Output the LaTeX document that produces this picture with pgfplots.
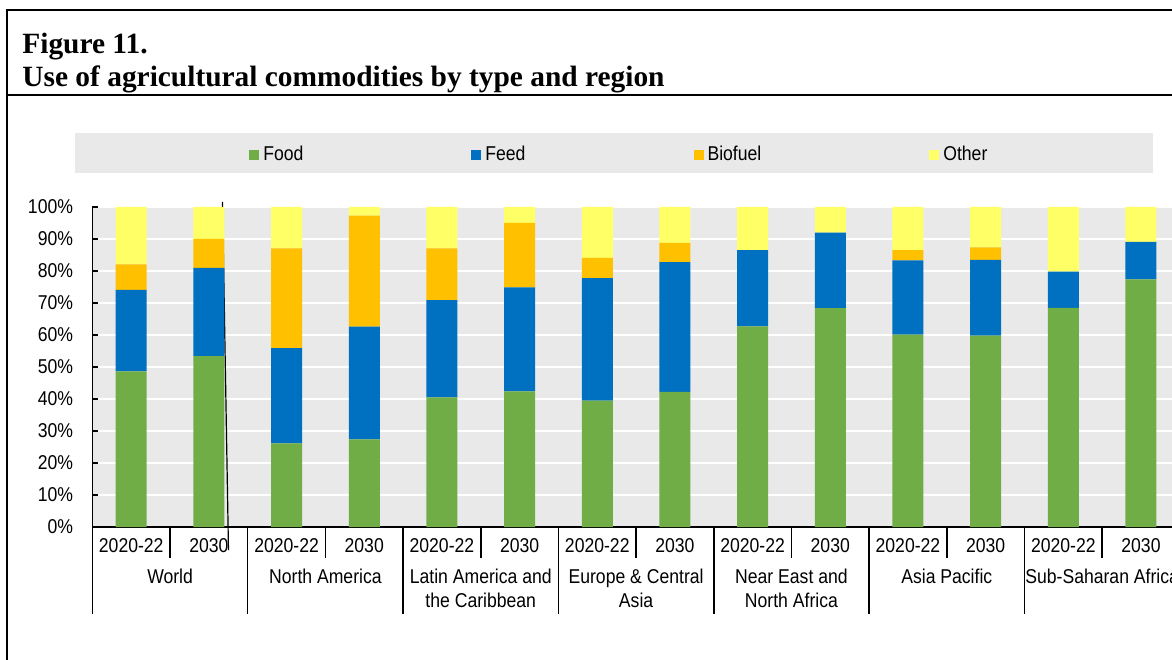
\documentclass[border=0pt]{standalone}
\usepackage{pgfplots}
\pgfplotsset{compat=1.18}
\usepackage{pgfplotstable}
\usepackage{graphicx}
\usepackage{fontspec}
\setmainfont{Liberation Sans}
\newfontfamily\titlefont{Liberation Serif}
\definecolor{cfood}{HTML}{70AD47}
\definecolor{cfeed}{HTML}{0070C0}
\definecolor{cbio}{HTML}{FFC000}
\definecolor{coth}{HTML}{FFFF66}
\definecolor{bgg}{HTML}{E9E9E9}
\pgfplotstableread{
x food feed bio oth
0  48.6 25.5 8.0 17.9
1  53.4 27.6 9.0 10.0
2  26.1 29.8 31.2 12.9
3  27.4 35.2 34.7 2.7
4  40.5 30.4 16.2 12.9
5  42.4 32.5 20.1 5.0
6  39.5 38.3 6.3 15.9
7  42.2 40.6 6.0 11.2
8  62.7 23.8 0.0 13.5
9  68.4 23.6 0.0 8.0
10 60.1 23.2 3.2 13.5
11 59.8 23.7 3.9 12.6
12 68.5 11.3 0.0 20.2
13 77.4 11.7 0.0 10.9
}\agdata
\newcommand{\nf}[1]{\scalebox{0.88}[1]{#1}}
\tikzset{lbl/.style={font=\fontsize{10pt}{12pt}\selectfont, anchor=base, inner sep=0pt}}
\begin{document}
\begin{tikzpicture}
\fill[bgg] (37.5pt,243pt) rectangle (576.5pt,263pt);
\begin{axis}[
  at={(46.2pt,66pt)}, anchor=south west,
  scale only axis, width=543.7pt, height=160pt,
  ybar stacked, bar width=15.5pt,
  xmin=-0.5, xmax=13.5, ymin=0, ymax=100,
  axis x line*=bottom, axis y line*=left,
  axis line style={-, black, line width=0.75pt},
  xtick=\empty,
  ytick={0,10,...,100},
  yticklabels={\nf{0\%},\nf{10\%},\nf{20\%},\nf{30\%},\nf{40\%},\nf{50\%},\nf{60\%},\nf{70\%},\nf{80\%},\nf{90\%},\nf{100\%}},
  yticklabel style={font=\fontsize{10pt}{12pt}\selectfont, inner sep=0pt, xshift=-9.5pt},
  tick align=inside, major tick length=3pt,
  tick style={black, line width=0.75pt},
  ymajorgrids, major grid style={white, line width=1pt},
  axis background/.style={fill=bgg},
  clip=false,
  legend columns=4,
  legend style={at={(axis description cs:0.4855,1.163)}, anchor=center,
    draw=none, fill=none, font=\fontsize{10pt}{12pt}\selectfont,
    /tikz/every even column/.append style={column sep=82pt}},
]
\addplot[fill=cfood, draw=none, legend image code/.code={\fill[cfood] (0pt,-2.5pt) rectangle (5pt,2.5pt);}] table[x=x,y=food]{\agdata};
\addlegendentry{\nf{Food}}
\addplot[fill=cfeed, draw=none, legend image code/.code={\fill[cfeed] (0pt,-2.5pt) rectangle (5pt,2.5pt);}] table[x=x,y=feed]{\agdata};
\addlegendentry{\nf{Feed}}
\addplot[fill=cbio, draw=none, legend image code/.code={\fill[cbio] (0pt,-2.5pt) rectangle (5pt,2.5pt);}] table[x=x,y=bio]{\agdata};
\addlegendentry{\nf{Biofuel}}
\addplot[fill=coth, draw=none, legend image code/.code={\fill[coth] (0pt,-2.5pt) rectangle (5pt,2.5pt);}] table[x=x,y=oth]{\agdata};
\addlegendentry{\nf{Other}}
\draw[black, line width=0.75pt] (axis cs:-0.5,0) -- (axis cs:-0.5,-27.2)
  (axis cs:1.5,0) -- (axis cs:1.5,-27.2)
  (axis cs:3.5,0) -- (axis cs:3.5,-27.2)
  (axis cs:5.5,0) -- (axis cs:5.5,-27.2)
  (axis cs:7.5,0) -- (axis cs:7.5,-27.2)
  (axis cs:9.5,0) -- (axis cs:9.5,-27.2)
  (axis cs:11.5,0) -- (axis cs:11.5,-27.2)
  (axis cs:13.5,0) -- (axis cs:13.5,-27.2);
\draw[black, line width=0.75pt] (axis cs:0.5,0) -- (axis cs:0.5,-9.7)
  (axis cs:2.5,0) -- (axis cs:2.5,-9.7)
  (axis cs:4.5,0) -- (axis cs:4.5,-9.7)
  (axis cs:6.5,0) -- (axis cs:6.5,-9.7)
  (axis cs:8.5,0) -- (axis cs:8.5,-9.7)
  (axis cs:10.5,0) -- (axis cs:10.5,-9.7)
  (axis cs:12.5,0) -- (axis cs:12.5,-9.7);
\draw[black, line width=0.6pt] (axis cs:1.175,101.6) -- (axis cs:1.252,-7.2);
\node[lbl] at (axis cs:0,-8.1) {\nf{2020-22}}; \node[lbl] at (axis cs:1,-8.1) {\nf{2030}};
\node[lbl] at (axis cs:2,-8.1) {\nf{2020-22}}; \node[lbl] at (axis cs:3,-8.1) {\nf{2030}};
\node[lbl] at (axis cs:4,-8.1) {\nf{2020-22}}; \node[lbl] at (axis cs:5,-8.1) {\nf{2030}};
\node[lbl] at (axis cs:6,-8.1) {\nf{2020-22}}; \node[lbl] at (axis cs:7,-8.1) {\nf{2030}};
\node[lbl] at (axis cs:8,-8.1) {\nf{2020-22}}; \node[lbl] at (axis cs:9,-8.1) {\nf{2030}};
\node[lbl] at (axis cs:10,-8.1) {\nf{2020-22}}; \node[lbl] at (axis cs:11,-8.1) {\nf{2030}};
\node[lbl] at (axis cs:12,-8.1) {\nf{2020-22}}; \node[lbl] at (axis cs:13,-8.1) {\nf{2030}};
\node[lbl] at (axis cs:0.5,-17.8) {\nf{World}};
\node[lbl] at (axis cs:2.5,-17.8) {\nf{North America}};
\node[lbl] at (axis cs:4.5,-17.8) {\nf{Latin America and}};
\node[lbl] at (axis cs:4.5,-25.3) {\nf{the Caribbean}};
\node[lbl] at (axis cs:6.5,-17.8) {\nf{Europe \& Central}};
\node[lbl] at (axis cs:6.5,-25.3) {\nf{Asia}};
\node[lbl] at (axis cs:8.5,-17.8) {\nf{Near East and}};
\node[lbl] at (axis cs:8.5,-25.3) {\nf{North Africa}};
\node[lbl] at (axis cs:10.5,-17.8) {\nf{Asia Pacific}};
\node[lbl] at (axis cs:12.5,-17.8) {\nf{Sub-Saharan Africa}};
\end{axis}
\draw[line width=1pt] (3.65pt,-5pt) -- (3.65pt,324.5pt) -- (600pt,324.5pt);
\draw[line width=1pt] (3.65pt,282pt) -- (600pt,282pt);
\node[anchor=base west, inner sep=0pt, font=\titlefont\bfseries\fontsize{14.7pt}{16pt}\selectfont] at (11pt,302.5pt) {Figure 11.};
\node[anchor=base west, inner sep=0pt, font=\titlefont\bfseries\fontsize{14.7pt}{16pt}\selectfont] at (11pt,286pt) {Use of agricultural commodities by type and region};
\pgfresetboundingbox
\useasboundingbox (0pt,0pt) rectangle (586pt,329.5pt);
\end{tikzpicture}
\end{document}
